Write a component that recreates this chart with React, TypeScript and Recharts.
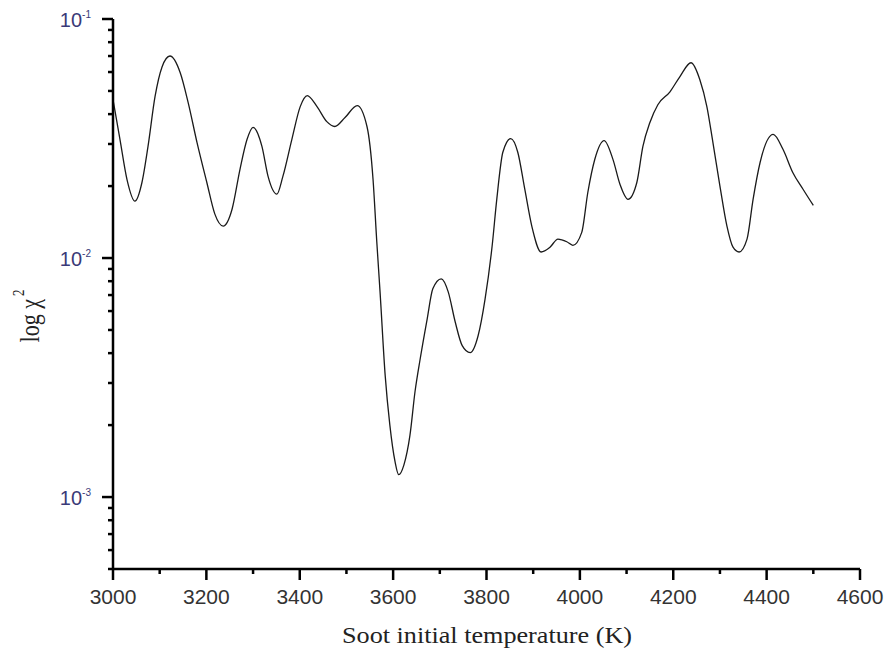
import { LineChart, Line, XAxis, YAxis, Label } from 'recharts'

// soot initial temperature (K)
const temperatures = [
  3000, 3015, 3030, 3047, 3062, 3075, 3090, 3105, 3122, 3144, 3161, 3180, 3201, 3218, 3236,
  3255, 3272, 3287, 3300, 3319, 3332, 3351, 3364, 3383, 3401, 3416, 3437, 3458, 3475, 3497,
  3523, 3544, 3557, 3565, 3572, 3583, 3593, 3604, 3612, 3623, 3636, 3647, 3658, 3673, 3685,
  3703, 3718, 3733, 3748, 3765, 3782, 3797, 3812, 3822, 3835, 3852, 3867, 3882, 3897, 3917,
  3936, 3953, 3972, 3985, 4004, 4017, 4032, 4052, 4071, 4086, 4103, 4122, 4135, 4150, 4167,
  4193, 4214, 4238, 4257, 4272, 4285, 4300, 4315, 4328, 4341, 4358, 4371, 4386, 4414, 4435,
  4456, 4478, 4500
]

// chi-squared of the fit at each temperature
const chiSquared = [
  0.046, 0.0313, 0.0213, 0.0173, 0.0207, 0.0293, 0.0473, 0.063, 0.07, 0.0596, 0.0447, 0.0304,
  0.0207, 0.0153, 0.0136, 0.016, 0.0235, 0.0313, 0.0352, 0.0293, 0.022, 0.0185, 0.022, 0.0313,
  0.043, 0.0478, 0.043, 0.0372, 0.0355, 0.0387, 0.0434, 0.0355, 0.0213, 0.0117, 0.00722,
  0.00322, 0.002, 0.00141, 0.00124, 0.00136, 0.00181, 0.00277, 0.00379, 0.00557, 0.00743,
  0.00818, 0.00722, 0.0054, 0.0043, 0.00402, 0.00473, 0.00675, 0.0112, 0.0176, 0.0277, 0.0316,
  0.0277, 0.0194, 0.0136, 0.0106, 0.0111, 0.012, 0.0117, 0.0113, 0.0128, 0.0188, 0.0259, 0.031,
  0.0258, 0.0203, 0.0176, 0.0207, 0.0293, 0.0369, 0.0438, 0.0496, 0.0573, 0.0656, 0.0557, 0.043,
  0.0304, 0.02, 0.0136, 0.0111, 0.0106, 0.012, 0.0176, 0.0251, 0.0329, 0.0285, 0.0228, 0.0194,
  0.0166
]

const xTicks = [
  3000, 3100, 3200, 3300, 3400, 3500, 3600, 3700, 3800, 3900, 4000, 4100, 4200, 4300, 4400,
  4500, 4600
]
const xLabelled = [3000, 3200, 3400, 3600, 3800, 4000, 4200, 4400, 4600]

const yTicks = [
  0.0005, 0.0006, 0.0007, 0.0008, 0.0009, 0.001, 0.002, 0.003, 0.004, 0.005, 0.006, 0.007,
  0.008, 0.009, 0.01, 0.02, 0.03, 0.04, 0.05, 0.06, 0.07, 0.08, 0.09, 0.1
]

const data = temperatures.map((t, i) => ({ t, chi: chiSquared[i] }))

const sansFont = 'Arial, sans-serif'
const serifFont = "'Times New Roman', serif"
const MINOR = 5
const MAJOR = 11

const isDecade = (v: number) => {
  const l = Math.log10(v)
  return Math.abs(l - Math.round(l)) < 1e-9
}

// the axis draws the short tick; majors get extended here and labelled
function XTick(props: any) {
  const x = Number(props.x)
  const y = Number(props.y)
  if (!xLabelled.includes(props.payload.value)) return <g />
  return (
    <g>
      <line x1={x} y1={y} x2={x} y2={y + MAJOR - MINOR} stroke="#000" strokeWidth={2.5} />
      <text x={x} y={y + 30} textAnchor="middle" fontFamily={sansFont} fontSize={21} fill="#333">
        {String(props.payload.value)}
      </text>
    </g>
  )
}

function YTick(props: any) {
  const x = Number(props.x)
  const y = Number(props.y)
  if (!isDecade(props.payload.value)) return <g />
  const exp = Math.round(Math.log10(props.payload.value))
  return (
    <g>
      <line x1={x} y1={y} x2={x - (MAJOR - MINOR)} y2={y} stroke="#000" strokeWidth={2.5} />
      <text x={x - 17} y={y + 8} textAnchor="end" fontFamily={sansFont} fontSize={20} fill="#3a3a78">
        10
        <tspan fontSize={10} dy={-9}>
          {String(exp)}
        </tspan>
      </text>
    </g>
  )
}

export default function App() {
  return (
    <div style={{ position: 'fixed', left: 0, top: 0, background: '#fff' }}>
      <LineChart
        width={886}
        height={654}
        data={data}
        margin={{ top: 19, right: 26, bottom: 0, left: 0 }}
      >
        <XAxis
          dataKey="t"
          type="number"
          domain={[3000, 4600]}
          ticks={xTicks}
          interval={0}
          height={85}
          tickSize={MINOR}
          tickMargin={0}
          tickLine={{ stroke: '#000', strokeWidth: 2.5 }}
          tick={(p: any) => <XTick {...p} />}
          axisLine={{ stroke: '#000', strokeWidth: 2.5 }}
        >
          <Label
            content={() => (
              <text
                x={487}
                y={643}
                textAnchor="middle"
                fontFamily={serifFont}
                fontSize={24}
                textLength={290}
                lengthAdjust="spacingAndGlyphs"
                fill="#222"
              >
                Soot initial temperature (K)
              </text>
            )}
          />
        </XAxis>
        <YAxis
          type="number"
          scale="log"
          domain={[0.0005, 0.1]}
          allowDataOverflow
          ticks={yTicks}
          interval={0}
          width={113}
          tickSize={MINOR}
          tickMargin={0}
          tickLine={{ stroke: '#000', strokeWidth: 2.5 }}
          tick={(p: any) => <YTick {...p} />}
          axisLine={{ stroke: '#000', strokeWidth: 2.5 }}
        >
          <Label
            content={() => (
              <text
                x={0}
                y={0}
                transform="translate(39, 316) scale(1.25, 1) rotate(-90)"
                textAnchor="middle"
                fontFamily={serifFont}
                fontSize={22}
                fill="#222"
              >
                log χ
                <tspan fontSize={13} dy={-12} dx={3}>
                  2
                </tspan>
              </text>
            )}
          />
        </YAxis>
        <Line
          type="monotone"
          dataKey="chi"
          stroke="#1a1a1a"
          strokeWidth={1.3}
          dot={false}
          isAnimationActive={false}
        />
      </LineChart>
    </div>
  )
}
